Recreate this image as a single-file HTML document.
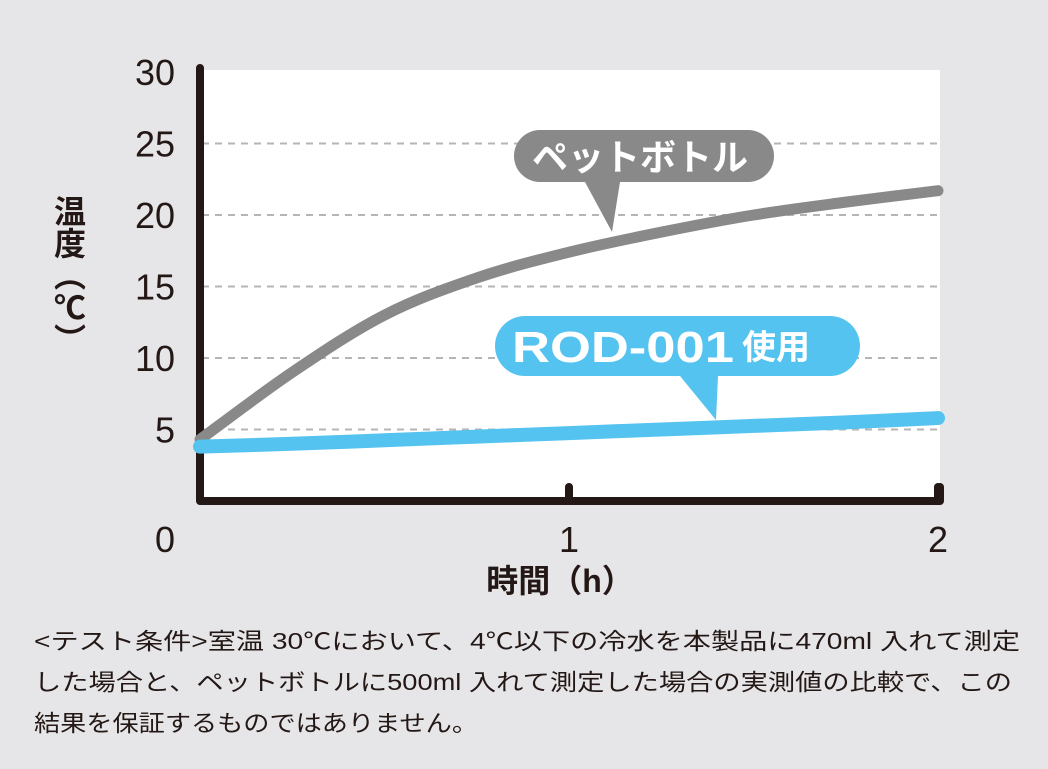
<!DOCTYPE html>
<html><head><meta charset="utf-8"><style>
body{margin:0;width:1048px;height:769px;background:#e6e6e8;overflow:hidden;font-family:"Liberation Sans","Noto Sans CJK JP",sans-serif;}
svg{position:absolute;left:0;top:0}
</style></head><body>
<svg id="chart" width="1048" height="769"></svg>
<script>
const yTicks=[0,5,10,15,20,25,30];
const xTicks=[0,1,2];
const times=[0,0.25,0.5,0.75,1,1.25,1.5,1.75,2];
const petValues=[4.3,9.0,13.0,15.6,17.4,18.8,20.0,20.9,21.7];
const rodValues=[3.8,4.0,4.25,4.5,4.75,5.0,5.25,5.5,5.8];
const NS="http://www.w3.org/2000/svg";
const svg=document.getElementById('chart');
const X=t=>200+t*369, Y=v=>501-v*14.3;
function el(tag,attrs,txt){const e=document.createElementNS(NS,tag);for(const k in attrs)e.setAttribute(k,attrs[k]);if(txt!==undefined)e.textContent=txt;svg.appendChild(e);return e;}
let e=el('rect',{x:200,y:70,width:740,height:431,fill:'#fff'});


yTicks.forEach(v=>{
 if(v>0&&v<30){const g=el('line',{x1:202,x2:940,y1:Y(v),y2:Y(v),stroke:'#b5b5b5','stroke-width':2,'stroke-dasharray':'7 6'});
 
 }
 const ty=v===0?552:Y(v)+13;
 const t=el('text',{x:175,y:ty,'font-size':36,'text-anchor':'end',fill:'#231815'},v);
 
 
});
xTicks.forEach(v=>{
 if(v>0){const tk=el('line',{x1:X(v),x2:X(v),y1:487,y2:501,stroke:'#231815','stroke-width':8,'stroke-linecap':'round'});
 
 
 const t=el('text',{x:X(v),y:552,'font-size':36,'text-anchor':'middle',fill:'#231815'},v);
 
 }
});
e=el('path',{d:'M200,68 L200,501 L940,501 L940,487',fill:'none',stroke:'#231815','stroke-width':8,'stroke-linecap':'round','stroke-linejoin':'round'});


function smooth(vals){const p=times.map((t,i)=>[X(t),Y(vals[i])]);let d='M'+p[0];for(let i=0;i<p.length-1;i++){const p0=p[i-1]||p[i],p1=p[i],p2=p[i+1],p3=p[i+2]||p2;d+=` C${p1[0]+(p2[0]-p0[0])/6},${p1[1]+(p2[1]-p0[1])/6} ${p2[0]-(p3[0]-p1[0])/6},${p2[1]-(p3[1]-p1[1])/6} ${p2[0]},${p2[1]}`;}return d;}
e=el('path',{d:smooth(petValues),fill:'none',stroke:'#898989','stroke-width':11,'stroke-linecap':'round'});


e=el('path',{d:smooth(rodValues),fill:'none',stroke:'#54c3f0','stroke-width':14,'stroke-linecap':'round'});


e=el('path',{d:'M540,130 H748 a26,26 0 0 1 0,52 H620 L612,232 L585,182 H540 a26,26 0 0 1 0,-52 Z',fill:'#898989'});


e=el('text',{x:640,y:170,'font-size':36,'font-weight':'bold','text-anchor':'middle',fill:'#fff'},'ペットボトル');


e=el('path',{d:'M525,316 H830 a30,30 0 0 1 0,60 H718 L716,420 L680,376 H525 a30,30 0 0 1 0,-60 Z',fill:'#54c3f0'});


e=el('text',{x:512,y:362,'font-size':44,'font-weight':'bold',fill:'#fff',textLength:222,lengthAdjust:'spacingAndGlyphs'},'ROD-001');


e=el('text',{x:742,y:359,'font-size':34,'font-weight':'bold',fill:'#fff'},'使用');


e=el('text',{x:560,y:592,'font-size':32,'font-weight':'bold','text-anchor':'middle',fill:'#231815'},'時間（h）');


e=el('text',{x:68,y:195,'font-size':32,'font-weight':'bold','text-anchor':'start',fill:'#231815','writing-mode':'tb','glyph-orientation-vertical':0},'温度（℃）');


const note=[['<テスト条件>室温 30℃において、4℃以下の冷水を本製品に470ml 入れて測定',649,986],['した場合と、ペットボトルに500ml 入れて測定した場合の実測値の比較で、この',690,978],['結果を保証するものではありません。',731,444]];
note.forEach((n,i)=>{
 const t=el('text',{x:34,y:n[1],'font-size':23,fill:'#231815',textLength:n[2],lengthAdjust:'spacingAndGlyphs'},n[0]);
 
 
});
</script>
</body></html>
